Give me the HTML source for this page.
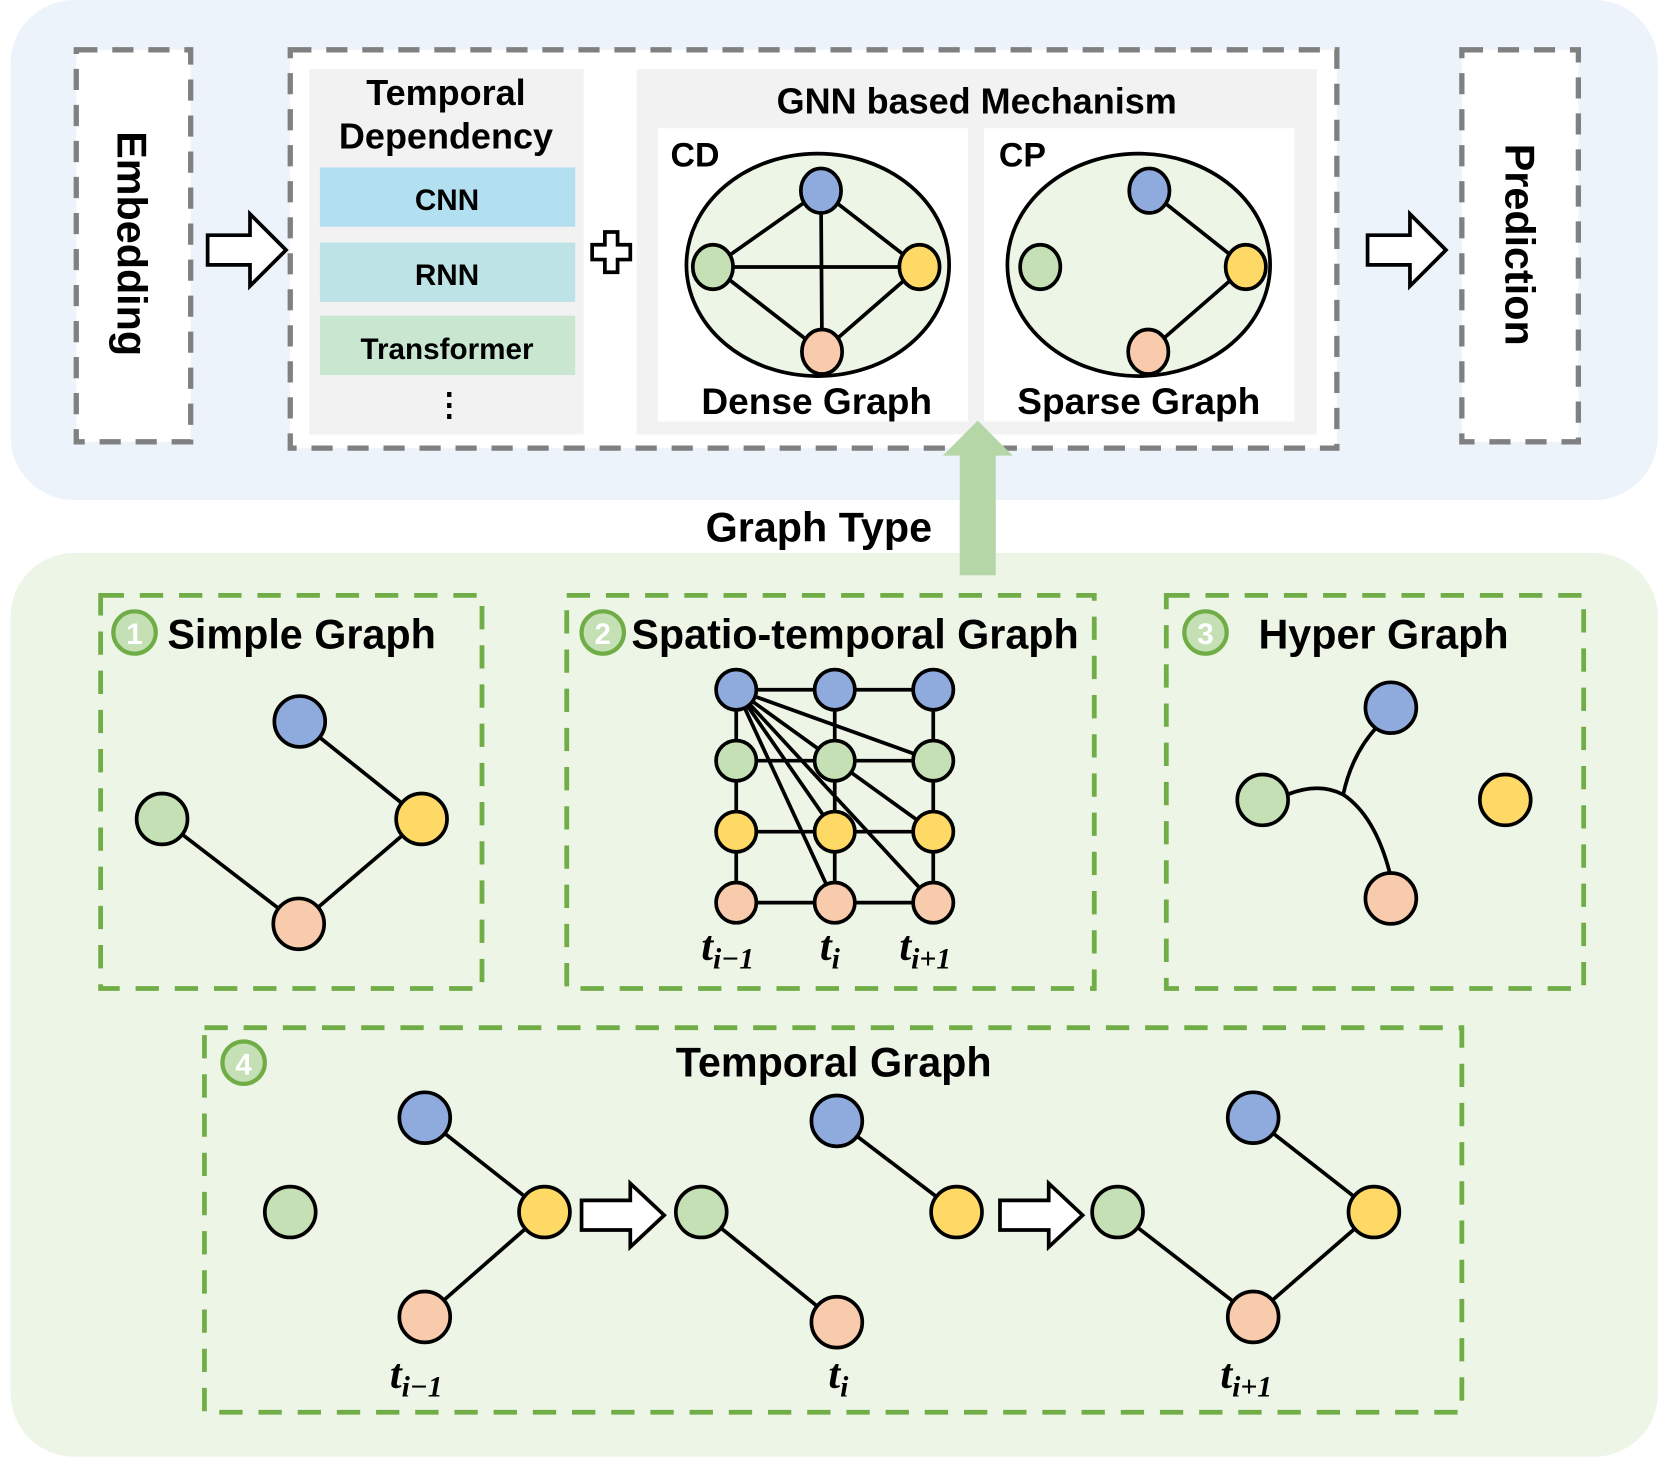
<!DOCTYPE html>
<html><head><meta charset="utf-8"><style>html,body{margin:0;padding:0;background:#fff}svg{display:block}</style></head>
<body>
<svg width="1661" height="1461" viewBox="0 0 1568 1379" preserveAspectRatio="none" xmlns="http://www.w3.org/2000/svg" font-family="Liberation Sans, Arial, sans-serif" font-weight="bold">
<defs>
<style>
.n{stroke:#000;stroke-width:3.5}
.b{fill:#8faadc}.g{fill:#c5e0b4}.y{fill:#ffd966}.o{fill:#f8cbad}
.e{stroke:#000;stroke-width:3.5;fill:none}
.gd{fill:none;stroke:#70ad47;stroke-width:4.5;stroke-dasharray:22 15}
.kd{stroke:#808080;stroke-width:5;stroke-dasharray:20 14}
.t{font-family:"Liberation Serif",serif;font-style:italic;font-weight:bold}
</style>
</defs>
<rect x="10" y="0" width="1555" height="472" rx="60" fill="#edf3fb"/>
<rect x="10" y="522" width="1555" height="853" rx="60" fill="#edf5e6"/>

<!-- Embedding -->
<rect x="72" y="47" width="108" height="370" fill="#fff" class="kd"/>
<text x="0" y="0" font-size="39" text-anchor="middle" transform="translate(111,230) rotate(90)">Embedding</text>
<path d="M196,222 H236 V202 L270,236 L236,270 V250 H196 Z" fill="#fff" stroke="#000" stroke-width="3.5"/>

<!-- middle -->
<rect x="274" y="47" width="988" height="376" fill="#fff" class="kd"/>
<rect x="292" y="65" width="259" height="345" fill="#f2f2f2"/>
<text x="421" y="99" font-size="34" text-anchor="middle">Temporal</text>
<text x="421" y="140" font-size="34" text-anchor="middle">Dependency</text>
<rect x="302" y="158" width="241" height="56" fill="#b3e0f0"/>
<rect x="302" y="229" width="241" height="56" fill="#bde3e6"/>
<rect x="302" y="298" width="241" height="56" fill="#c8e6d0"/>
<text x="422" y="198" font-size="28" text-anchor="middle">CNN</text>
<text x="422" y="269" font-size="28" text-anchor="middle">RNN</text>
<text x="422" y="339" font-size="28" text-anchor="middle">Transformer</text>
<text x="424" y="392" font-size="30" text-anchor="middle">⋮</text>
<path d="M571,219 h12 v12 h12 v14 h-12 v12 h-12 v-12 h-12 v-14 h12 z" fill="#fff" stroke="#000" stroke-width="3.5"/>

<rect x="601" y="65" width="642" height="345" fill="#f2f2f2"/>
<text x="922" y="107" font-size="34" text-anchor="middle">GNN based Mechanism</text>
<rect x="621" y="121" width="293" height="277" fill="#fff"/>
<rect x="929" y="121" width="293" height="277" fill="#fff"/>
<text x="633" y="157" font-size="32">CD</text>
<text x="943" y="157" font-size="32">CP</text>
<ellipse cx="772" cy="250" rx="124" ry="105" fill="#edf5e6" stroke="#000" stroke-width="3.5"/>
<path class="e" d="M775,180 L673,252 M775,180 L868,252 M775,180 L776,332 M673,252 L868,252 M673,252 L776,332 M868,252 L776,332"/>
<ellipse class="n b" cx="775" cy="180" rx="19" ry="21"/>
<ellipse class="n g" cx="673" cy="252" rx="19" ry="21"/>
<ellipse class="n y" cx="868" cy="252" rx="19" ry="21"/>
<ellipse class="n o" cx="776" cy="332" rx="19" ry="21"/>
<text x="771" y="391" font-size="35" text-anchor="middle">Dense Graph</text>
<ellipse cx="1075" cy="250" rx="124" ry="105" fill="#edf5e6" stroke="#000" stroke-width="3.5"/>
<path class="e" d="M1085,180 L1176,252 L1084,332"/>
<ellipse class="n b" cx="1085" cy="180" rx="19" ry="21"/>
<ellipse class="n g" cx="982" cy="252" rx="19" ry="21"/>
<ellipse class="n y" cx="1176" cy="252" rx="19" ry="21"/>
<ellipse class="n o" cx="1084" cy="332" rx="19" ry="21"/>
<text x="1075" y="391" font-size="35" text-anchor="middle">Sparse Graph</text>

<!-- Prediction -->
<path d="M1291,222 H1331 V202 L1365,236 L1331,270 V250 H1291 Z" fill="#fff" stroke="#000" stroke-width="3.5"/>
<rect x="1380" y="47" width="110" height="370" fill="#fff" class="kd"/>
<text x="0" y="0" font-size="39" text-anchor="middle" transform="translate(1421,231) rotate(90)">Prediction</text>

<!-- up arrow -->
<path d="M906,543 V430 H890 L923,397 L956,430 H940 V543 Z" fill="#b5d6a7"/>
<text x="773" y="511" font-size="39" text-anchor="middle">Graph Type</text>

<!-- Simple graph -->
<rect x="95" y="562" width="360" height="371" class="gd"/>
<circle cx="127" cy="597" r="20" fill="#c5e0b4" stroke="#70ad47" stroke-width="4"/>
<text x="127" y="608" font-size="28" fill="#fff" text-anchor="middle">1</text>
<text x="158" y="612" font-size="39">Simple Graph</text>
<path class="e" d="M283,681 L398,773 L282,872 L153,773"/>
<circle class="n b" cx="283" cy="681" r="24"/>
<circle class="n g" cx="153" cy="773" r="24"/>
<circle class="n y" cx="398" cy="773" r="24"/>
<circle class="n o" cx="282" cy="872" r="24"/>

<!-- Spatio-temporal -->
<rect x="535" y="562" width="498" height="371" class="gd"/>
<circle cx="569" cy="597" r="20" fill="#c5e0b4" stroke="#70ad47" stroke-width="4"/>
<text x="569" y="608" font-size="28" fill="#fff" text-anchor="middle">2</text>
<text x="596" y="612" font-size="39">Spatio-temporal Graph</text>
<path class="e" d="M695,651H881M695,718H881M695,785H881M695,852H881M695,651V852M788,651V852M881,651V852
M695,651L788,718M695,651L788,785M695,651L788,852M695,651L881,718M695,651L881,785M695,651L881,852"/>
<g>
<circle class="n b" cx="695" cy="651" r="19"/><circle class="n b" cx="788" cy="651" r="19"/><circle class="n b" cx="881" cy="651" r="19"/>
<circle class="n g" cx="695" cy="718" r="19"/><circle class="n g" cx="788" cy="718" r="19"/><circle class="n g" cx="881" cy="718" r="19"/>
<circle class="n y" cx="695" cy="785" r="19"/><circle class="n y" cx="788" cy="785" r="19"/><circle class="n y" cx="881" cy="785" r="19"/>
<circle class="n o" cx="695" cy="852" r="19"/><circle class="n o" cx="788" cy="852" r="19"/><circle class="n o" cx="881" cy="852" r="19"/>
</g>
<text class="t" x="662" y="906" font-size="40">t<tspan font-size="28" dy="8">i−1</tspan></text>
<text class="t" x="774" y="906" font-size="40">t<tspan font-size="28" dy="8">i</tspan></text>
<text class="t" x="849" y="906" font-size="40">t<tspan font-size="28" dy="8">i+1</tspan></text>

<!-- Hyper -->
<rect x="1101" y="562" width="394" height="371" class="gd"/>
<circle cx="1138" cy="597" r="20" fill="#c5e0b4" stroke="#70ad47" stroke-width="4"/>
<text x="1138" y="608" font-size="28" fill="#fff" text-anchor="middle">3</text>
<text x="1188" y="612" font-size="39">Hyper Graph</text>
<path class="e" d="M1215,750 Q1245,738 1268,750 Q1276,712 1300,686 M1268,750 Q1298,770 1312,824"/>
<circle class="n b" cx="1313" cy="668" r="24"/>
<circle class="n g" cx="1192" cy="755" r="24"/>
<circle class="n y" cx="1421" cy="755" r="24"/>
<circle class="n o" cx="1313" cy="848" r="24"/>

<!-- Temporal -->
<rect x="193" y="970" width="1187" height="363" class="gd"/>
<circle cx="230" cy="1003" r="20" fill="#c5e0b4" stroke="#70ad47" stroke-width="4"/>
<text x="230" y="1014" font-size="28" fill="#fff" text-anchor="middle">4</text>
<text x="787" y="1016" font-size="39" text-anchor="middle">Temporal Graph</text>

<path class="e" d="M401,1055 L514,1144 L401,1243"/>
<circle class="n b" cx="401" cy="1055" r="24"/>
<circle class="n g" cx="274" cy="1144" r="24"/>
<circle class="n y" cx="514" cy="1144" r="24"/>
<circle class="n o" cx="401" cy="1243" r="24"/>
<text class="t" x="368" y="1310" font-size="40">t<tspan font-size="28" dy="8">i−1</tspan></text>
<path d="M549,1133 H595 V1117 L627,1147 L595,1177 V1161 H549 Z" fill="#fff" stroke="#000" stroke-width="3.5"/>

<path class="e" d="M790,1058 L903,1144 M662,1144 L790,1248"/>
<circle class="n g" cx="662" cy="1144" r="24"/>
<circle class="n b" cx="790" cy="1058" r="24"/>
<circle class="n y" cx="903" cy="1144" r="24"/>
<circle class="n o" cx="790" cy="1248" r="24"/>
<text class="t" x="782" y="1310" font-size="40">t<tspan font-size="28" dy="8">i</tspan></text>
<path d="M944,1133 H990 V1117 L1022,1147 L990,1177 V1161 H944 Z" fill="#fff" stroke="#000" stroke-width="3.5"/>

<path class="e" d="M1183,1055 L1297,1144 L1183,1243 L1055,1144"/>
<circle class="n g" cx="1055" cy="1144" r="24"/>
<circle class="n b" cx="1183" cy="1055" r="24"/>
<circle class="n y" cx="1297" cy="1144" r="24"/>
<circle class="n o" cx="1183" cy="1243" r="24"/>
<text class="t" x="1152" y="1310" font-size="40">t<tspan font-size="28" dy="8">i+1</tspan></text>
</svg>
</body></html>
